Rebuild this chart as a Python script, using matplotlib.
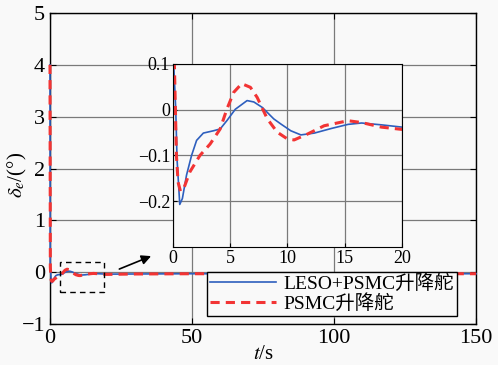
import numpy as np
import matplotlib
matplotlib.use('Agg')
import matplotlib.pyplot as plt
from matplotlib.patches import Rectangle

plt.rcParams['font.family'] = ['Liberation Serif', 'Noto Sans CJK SC']
plt.rcParams['mathtext.fontset'] = 'stix'
plt.rcParams['axes.unicode_minus'] = True

# LESO+PSMC elevator
t_leso = [0, 0.06, 0.24, 0.35, 0.59, 0.82, 1.18, 1.62, 2.06, 2.65, 3.53, 4.12, 4.7,
          5.44, 6.47, 7.06, 7.8, 8.8, 9.41, 10.29, 11.17, 12.35, 13.82, 15.29, 16.47,
          18.2, 20, 30, 50, 150]
d_leso = [4.0, 0.1, 0.0, -0.107, -0.207, -0.194, -0.143, -0.1, -0.067, -0.051, -0.046,
          -0.042, -0.024, 0.001, 0.02, 0.017, 0.005, -0.02, -0.031, -0.046, -0.055,
          -0.051, -0.041, -0.032, -0.029, -0.033, -0.038, -0.035, -0.03, -0.03]
# PSMC elevator
t_psmc = [0, 0.12, 0.3, 0.44, 0.65, 0.94, 1.47, 2.35, 3.24, 4.12, 4.7, 5.3, 6.0, 6.76,
          7.35, 8.24, 9.1, 10.0, 10.58, 11.76, 13.2, 15.29, 16.47, 18.2, 20, 30, 50, 150]
d_psmc = [4.0, 0.1, -0.1, -0.158, -0.178, -0.172, -0.136, -0.1, -0.075, -0.042, 0.001,
          0.038, 0.057, 0.049, 0.027, -0.02, -0.049, -0.064, -0.066, -0.053, -0.035,
          -0.024, -0.028, -0.038, -0.043, -0.035, -0.03, -0.03]

labels = ['LESO+PSMC升降舵', 'PSMC升降舵']
blue = '#2e5fbe'
red = '#f23434'
bg = '#f9f9f9'

fig = plt.figure(figsize=(4.98, 3.65), dpi=100, facecolor=bg)
ax = fig.add_axes([0.1004, 0.1123, 0.8556, 0.8521], facecolor=bg)
ax.plot(t_leso, d_leso, color=blue, lw=1.2, label=labels[0], zorder=3, clip_on=False)
ax.plot(t_psmc, d_psmc, color=red, lw=2.2, ls=(0, (3, 2)), label=labels[1],
        zorder=3, clip_on=False)
ax.set_xlim(0, 150)
ax.set_ylim(-1, 5)
ax.set_xticks([0, 50, 100, 150])
ax.set_yticks(range(-1, 6))
ax.grid(True, color='#7a7a7a', lw=0.9)
ax.tick_params(direction='in', labelsize=16, top=True, right=True, length=4)
for s in ax.spines.values():
    s.set_linewidth(1.0)
ax.set_xlabel(r'$t$/s', fontsize=15, labelpad=-2)
fig.text(0.036, 0.52, r'$\delta_e$/(°)', fontsize=15, rotation=90,
         ha='center', va='center')

# zoom box and arrow
ax.add_patch(Rectangle((3.5, -0.38), 15.5, 0.58, fill=False, ls=(0, (4, 3)),
                       lw=1.0, ec='black', zorder=5))
ax.annotate('', xy=(36.5, 0.33), xytext=(23.5, 0.04),
            arrowprops=dict(arrowstyle='-|>', color='black', lw=1.2,
                            mutation_scale=14))

leg = ax.legend(loc='lower right', bbox_to_anchor=(0.978, -0.005), fontsize=14,
                frameon=True, fancybox=False, edgecolor='black', framealpha=1,
                facecolor=bg, handlelength=3.4, borderpad=0.15, labelspacing=0.05,
                handletextpad=0.4)
leg.get_frame().set_linewidth(1.0)
leg.set_zorder(6)

# inset
ins = fig.add_axes([0.3474, 0.3233, 0.4598, 0.5014], facecolor=bg)
ins.plot(t_leso, d_leso, color=blue, lw=1.2)
ins.plot(t_psmc, d_psmc, color=red, lw=2.2, ls=(0, (3, 2)))
ins.set_xlim(0, 20)
ins.set_ylim(-0.3, 0.1)
ins.set_xticks([0, 5, 10, 15, 20])
ins.set_yticks([-0.2, -0.1, 0, 0.1])
ins.set_yticklabels(['\u22120.2', '\u22120.1', '0', '0.1'])
ins.grid(True, color='#7a7a7a', lw=0.9)
ins.tick_params(direction='in', labelsize=13, length=3, pad=2)

fig.savefig('out.png', dpi=100, facecolor=bg)
